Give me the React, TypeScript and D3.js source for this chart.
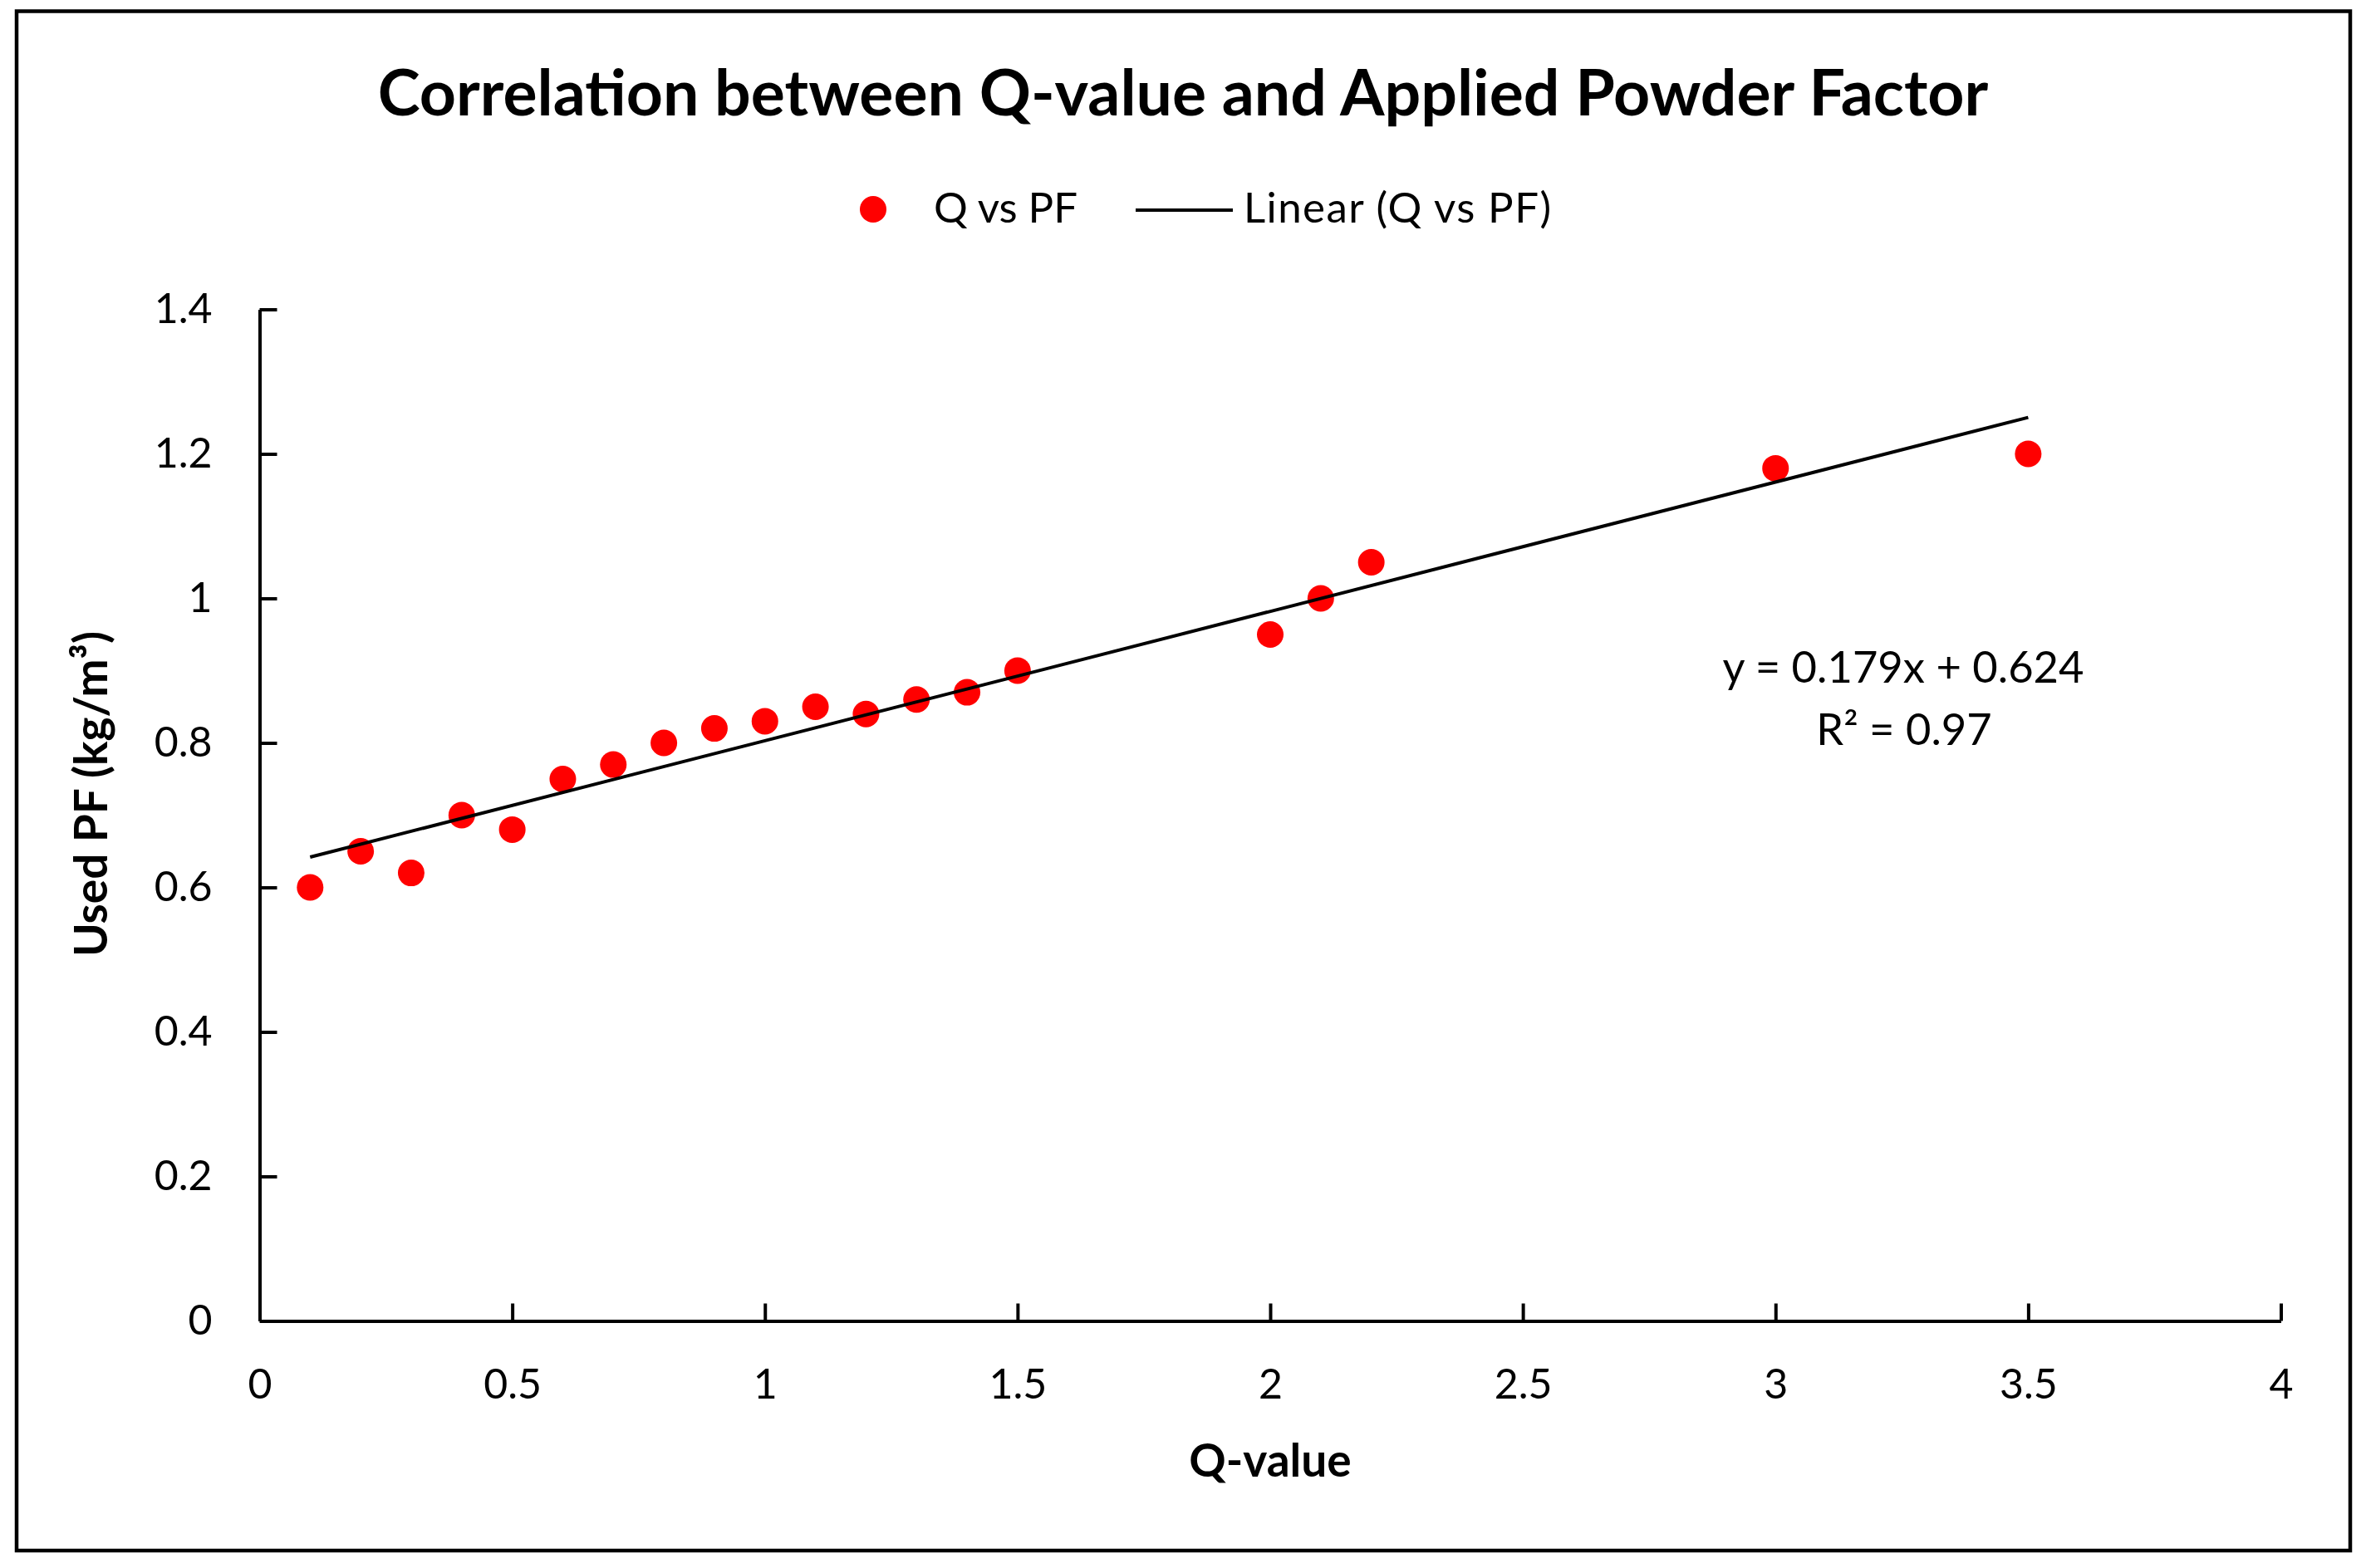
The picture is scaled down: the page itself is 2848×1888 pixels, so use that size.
// Scatter of Q-value vs used powder factor with a linear trendline (Excel-style chart).
import { useEffect, useRef } from "react";
import * as d3 from "d3";

// data
const Q_VALUES = [0.1, 0.2, 0.3, 0.4, 0.5, 0.6, 0.7, 0.8, 0.9, 1.0, 1.1, 1.2, 1.3, 1.4, 1.5, 2.0, 2.1, 2.2, 3.0, 3.5];
const USED_PF = [0.6, 0.65, 0.62, 0.7, 0.68, 0.75, 0.77, 0.8, 0.82, 0.83, 0.85, 0.84, 0.86, 0.87, 0.9, 0.95, 1.0, 1.05, 1.18, 1.2];

// trendline as printed on the chart
const SLOPE = 0.179;
const INTERCEPT = 0.624;
const R2_LABEL = "R² = 0.97";
const EQ_LABEL = "y = 0.179x + 0.624";

const X_TICKS = [0, 0.5, 1, 1.5, 2, 2.5, 3, 3.5, 4];
const X_TICK_LABELS = ["0", "0.5", "1", "1.5", "2", "2.5", "3", "3.5", "4"];
const Y_TICKS = [0, 0.2, 0.4, 0.6, 0.8, 1, 1.2, 1.4];
const Y_TICK_LABELS = ["0", "0.2", "0.4", "0.6", "0.8", "1", "1.2", "1.4"];

const TITLE = "Correlation between Q-value and Applied Powder Factor";
const X_TITLE = "Q-value";
const Y_TITLE = "Used PF (kg/m³)";
const SERIES_NAME = "Q vs PF";
const TREND_NAME = "Linear (Q vs PF)";

const FONT = "Lato, 'Open Sans', sans-serif";
const RED = "#ff0000";

export default function App() {
  const svgRef = useRef<SVGSVGElement | null>(null);

  useEffect(() => {
    const svg = d3.select(svgRef.current);
    svg.selectAll("*").remove();

    const W = 2848;
    const H = 1888;
    const plot = { left: 312.5, right: 2745.5, top: 372.5, bottom: 1590.5 };

    svg.attr("viewBox", `0 0 ${W} ${H}`);
    svg.append("rect").attr("width", W).attr("height", H).attr("fill", "#fff");

    // outer chart border
    svg
      .append("rect")
      .attr("x", 20)
      .attr("y", 13.5)
      .attr("width", 2809)
      .attr("height", 1853.5)
      .attr("fill", "none")
      .attr("stroke", "#000")
      .attr("stroke-width", 4.5);

    const x = d3.scaleLinear().domain([0, 4]).range([plot.left, plot.right]);
    const y = d3.scaleLinear().domain([0, 1.4]).range([plot.bottom, plot.top]);

    // title
    svg
      .append("text")
      .attr("x", 1424)
      .attr("y", 139)
      .attr("text-anchor", "middle")
      .attr("font-family", FONT)
      .attr("font-weight", 700)
      .attr("font-size", 77)
      .attr("fill", "#000")
      .text(TITLE);

    // legend
    const legend = svg.append("g").attr("font-family", FONT).attr("font-size", 51).attr("fill", "#000");
    legend.append("circle").attr("cx", 1051).attr("cy", 252).attr("r", 16).attr("fill", RED);
    legend.append("text").attr("x", 1124).attr("y", 268).text(SERIES_NAME);
    legend
      .append("line")
      .attr("x1", 1367)
      .attr("x2", 1484)
      .attr("y1", 253)
      .attr("y2", 253)
      .attr("stroke", "#000")
      .attr("stroke-width", 4);
    legend.append("text").attr("x", 1497).attr("y", 268).attr("textLength", 370).text(TREND_NAME);

    // axes, ticks point inward like the Excel original
    const xAxis = svg
      .append("g")
      .attr("transform", `translate(0,${plot.bottom})`)
      .call(
        d3
          .axisBottom(x)
          .tickValues(X_TICKS)
          .tickFormat((_, i) => X_TICK_LABELS[i])
          .tickSizeInner(-21)
          .tickSizeOuter(0)
          .tickPadding(58),
      );

    const yAxis = svg
      .append("g")
      .attr("transform", `translate(${plot.left},0)`)
      .call(
        d3
          .axisLeft(y)
          .tickValues(Y_TICKS)
          .tickFormat((_, i) => Y_TICK_LABELS[i])
          .tickSizeInner(-21)
          .tickSizeOuter(0)
          .tickPadding(57),
      );

    [xAxis, yAxis].forEach((ax) => {
      ax.selectAll("path,line").attr("stroke", "#000").attr("stroke-width", 4);
      ax.selectAll("text").attr("font-family", FONT).attr("font-size", 50).attr("fill", "#000");
    });
    xAxis.selectAll("text").attr("dy", "0.71em");

    // axis titles
    svg
      .append("text")
      .attr("x", (plot.left + plot.right) / 2)
      .attr("y", 1778)
      .attr("text-anchor", "middle")
      .attr("font-family", FONT)
      .attr("font-weight", 700)
      .attr("font-size", 55)
      .text(X_TITLE);

    svg
      .append("text")
      .attr("transform", `translate(129,956) rotate(-90)`)
      .attr("text-anchor", "middle")
      .attr("font-family", FONT)
      .attr("font-weight", 700)
      .attr("font-size", 55)
      .text(Y_TITLE);

    // points
    const pts = Q_VALUES.map((q, i) => ({ q, pf: USED_PF[i] }));
    svg
      .append("g")
      .selectAll("circle")
      .data(pts)
      .join("circle")
      .attr("cx", (d) => x(d.q))
      .attr("cy", (d) => y(d.pf))
      .attr("r", 16)
      .attr("fill", RED);

    // trendline across the data extent
    const [qMin, qMax] = d3.extent(Q_VALUES) as [number, number];
    const line = d3
      .line<number>()
      .x((q) => x(q))
      .y((q) => y(SLOPE * q + INTERCEPT));
    svg
      .append("path")
      .attr("d", line([qMin, qMax]))
      .attr("fill", "none")
      .attr("stroke", "#000")
      .attr("stroke-width", 4);

    // equation label
    const eq = svg.append("g").attr("font-family", FONT).attr("font-size", 52.5).attr("text-anchor", "middle");
    eq.append("text").attr("x", 2291).attr("y", 822).text(EQ_LABEL);
    eq.append("text").attr("x", 2292).attr("y", 897).text(R2_LABEL);
  }, []);

  return (
    <svg
      ref={svgRef}
      width={2848}
      height={1888}
      style={{ position: "absolute", left: 0, top: 0, display: "block" }}
    />
  );
}
